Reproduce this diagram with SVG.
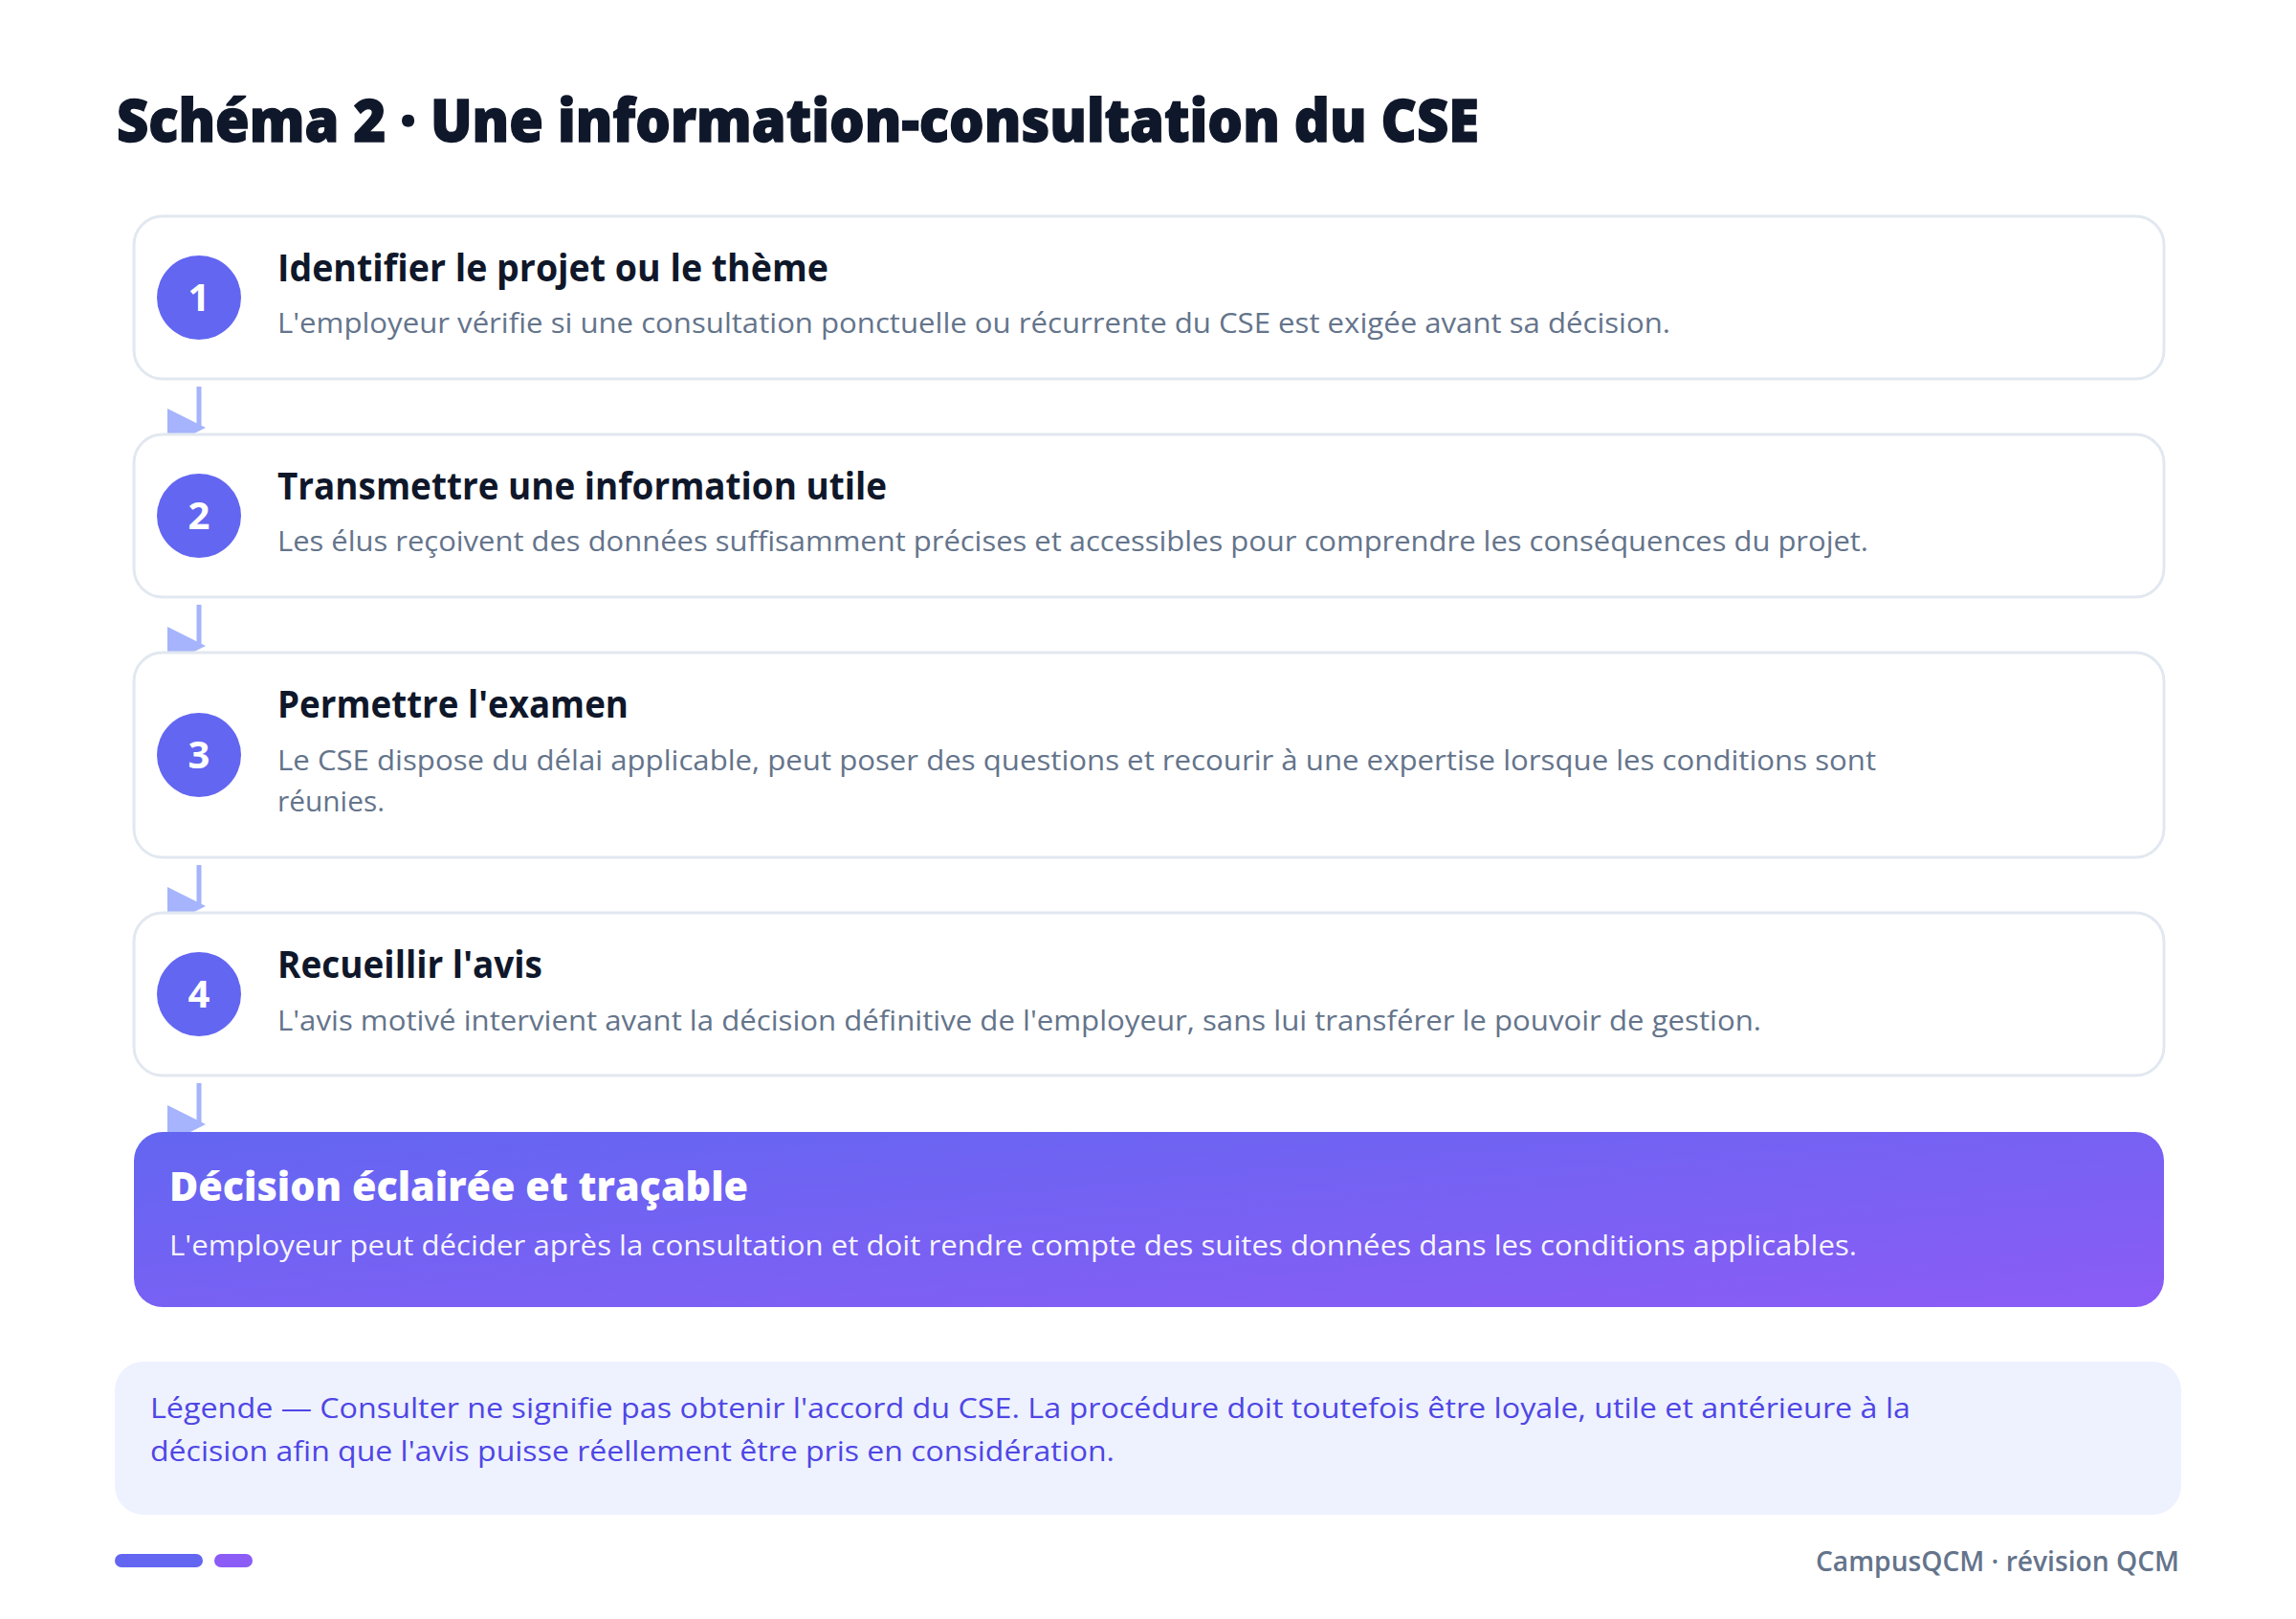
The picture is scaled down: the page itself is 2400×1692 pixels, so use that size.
<svg xmlns="http://www.w3.org/2000/svg" width="2400" height="1692" viewBox="0 0 2400 1692">
<defs>
<linearGradient id="decGrad" x1="0" y1="0" x2="1" y2="1">
<stop offset="0" stop-color="#6366f1"/>
<stop offset="1" stop-color="#8b5cf6"/>
</linearGradient>
<style>
.bg{fill:#ffffff}
.title{font-family:"Open Sans","Noto Sans",sans-serif;font-weight:800;font-size:62px;fill:#0f172a;stroke:#0f172a;stroke-width:1.4;paint-order:stroke}
.card{fill:#ffffff;stroke:#e2e8f0;stroke-width:3}
.num{fill:#6366f1}
.numt{font-family:"Open Sans","Noto Sans",sans-serif;font-weight:700;font-size:40px;fill:#ffffff;text-anchor:middle}
.ct{font-family:"Open Sans","Noto Sans",sans-serif;font-weight:700;font-size:39px;fill:#0f172a}
.cd{font-family:"Open Sans","Noto Sans",sans-serif;font-weight:400;font-size:30px;fill:#64748b}
.dt{font-family:"Open Sans","Noto Sans",sans-serif;font-weight:800;font-size:43px;fill:#ffffff}
.dd{font-family:"Open Sans","Noto Sans",sans-serif;font-weight:400;font-size:30px;fill:#ffffff;fill-opacity:0.95}
.lg{font-family:"Open Sans","Noto Sans",sans-serif;font-weight:400;font-size:30px;fill:#4f46e5}
.ft{font-family:"Open Sans","Noto Sans",sans-serif;font-weight:600;font-size:28px;fill:#64748b;text-anchor:end}
.conn line{stroke:#a5b4fc;stroke-width:5}
.conn polygon{fill:#a5b4fc}
</style>
</defs>
<rect class="bg" x="0" y="0" width="2400" height="1692"/>
<text class="title" x="122" y="148" textLength="1424" lengthAdjust="spacingAndGlyphs">Schéma 2 · Une information-consultation du CSE</text>

<g id="connectors" class="conn">
<line x1="208" y1="404" x2="208" y2="447"/>
<polygon points="175,427 215,447 175,467"/>
<line x1="208" y1="632" x2="208" y2="675"/>
<polygon points="175,655 215,675 175,695"/>
<line x1="208" y1="904" x2="208" y2="947"/>
<polygon points="175,927 215,947 175,967"/>
<line x1="208" y1="1132" x2="208" y2="1175"/>
<polygon points="175,1155 215,1175 175,1195"/>
</g>

<g id="step1">
<rect class="card" x="140" y="226" width="2122" height="170" rx="30"/>
<circle class="num" cx="208" cy="311" r="44"/>
<text class="numt" x="208" y="325">1</text>
<text class="ct" x="290" y="294" textLength="576" lengthAdjust="spacingAndGlyphs">Identifier le projet ou le thème</text>
<text class="cd" x="290" y="348" textLength="1456" lengthAdjust="spacingAndGlyphs">L'employeur vérifie si une consultation ponctuelle ou récurrente du CSE est exigée avant sa décision.</text>
</g>

<g id="step2">
<rect class="card" x="140" y="454" width="2122" height="170" rx="30"/>
<circle class="num" cx="208" cy="539" r="44"/>
<text class="numt" x="208" y="553">2</text>
<text class="ct" x="290" y="522" textLength="637" lengthAdjust="spacingAndGlyphs">Transmettre une information utile</text>
<text class="cd" x="290" y="576" textLength="1663" lengthAdjust="spacingAndGlyphs">Les élus reçoivent des données suffisamment précises et accessibles pour comprendre les conséquences du projet.</text>
</g>

<g id="step3">
<rect class="card" x="140" y="682" width="2122" height="214" rx="30"/>
<circle class="num" cx="208" cy="789" r="44"/>
<text class="numt" x="208" y="803">3</text>
<text class="ct" x="290" y="750" textLength="367" lengthAdjust="spacingAndGlyphs">Permettre l'examen</text>
<text class="cd" x="290" y="805" textLength="1671" lengthAdjust="spacingAndGlyphs">Le CSE dispose du délai applicable, peut poser des questions et recourir à une expertise lorsque les conditions sont</text>
<text class="cd" x="290" y="848" textLength="112" lengthAdjust="spacingAndGlyphs">réunies.</text>
</g>

<g id="step4">
<rect class="card" x="140" y="954" width="2122" height="170" rx="30"/>
<circle class="num" cx="208" cy="1039" r="44"/>
<text class="numt" x="208" y="1053">4</text>
<text class="ct" x="290" y="1022" textLength="277" lengthAdjust="spacingAndGlyphs">Recueillir l'avis</text>
<text class="cd" x="290" y="1077" textLength="1551" lengthAdjust="spacingAndGlyphs">L'avis motivé intervient avant la décision définitive de l'employeur, sans lui transférer le pouvoir de gestion.</text>
</g>

<g id="decision">
<rect x="140" y="1183" width="2122" height="183" rx="30" fill="url(#decGrad)"/>
<text class="dt" x="177" y="1255" textLength="605" lengthAdjust="spacingAndGlyphs">Décision éclairée et traçable</text>
<text class="dd" x="177" y="1312" textLength="1764" lengthAdjust="spacingAndGlyphs">L'employeur peut décider après la consultation et doit rendre compte des suites données dans les conditions applicables.</text>
</g>

<g id="legend">
<rect x="120" y="1423" width="2160" height="160" rx="30" fill="#eef2ff"/>
<text class="lg" x="157" y="1482" textLength="1840" lengthAdjust="spacingAndGlyphs">Légende — Consulter ne signifie pas obtenir l'accord du CSE. La procédure doit toutefois être loyale, utile et antérieure à la</text>
<text class="lg" x="157" y="1527" textLength="1008" lengthAdjust="spacingAndGlyphs">décision afin que l'avis puisse réellement être pris en considération.</text>
</g>

<g id="footer">
<rect x="120" y="1624" width="92" height="14" rx="7" fill="#6366f1"/>
<rect x="224" y="1624" width="40" height="14" rx="7" fill="#8b5cf6"/>
<text class="ft" x="2278" y="1642" textLength="380" lengthAdjust="spacingAndGlyphs">CampusQCM · révision QCM</text>
</g>
</svg>
